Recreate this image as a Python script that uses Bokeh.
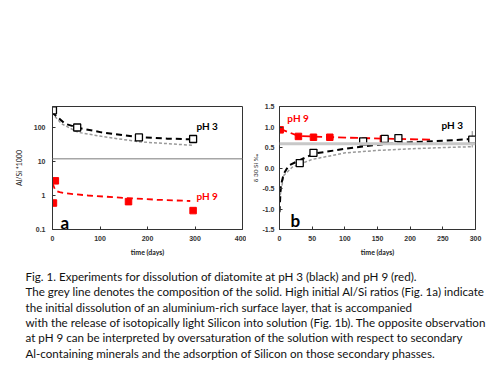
from bokeh.plotting import figure
from bokeh.layouts import column, row
from bokeh.models import Range1d, FixedTicker, Label, Span, ColumnDataSource, Whisker
from bokeh.embed import file_html
from bokeh.resources import INLINE

# ---------------- data: panel a (Al/Si * 1000, log) ----------------
a_ph3_t = [1, 52, 182, 296]
a_ph3_v = [320, 100, 51, 46]
a_ph9_t = [2, 6, 160, 296]
a_ph9_v = [0.6, 2.7, 0.66, 0.36]
a_fit3_t = [0, 3, 26, 54, 103, 182, 242, 295]
a_fit3_v = [300, 250, 130, 98, 72, 52, 47, 45]
a_grey_t = [0, 3, 19, 54, 103, 182, 295]
a_grey_v = [280, 228, 129, 72, 55, 38, 30]
a_fit9_t = [0, 6, 15, 30, 75, 150, 220, 290]
a_fit9_v = [2.3, 1.4, 1.25, 1.15, 1.0, 0.85, 0.75, 0.69]
a_solid = 12
a_yticks = [0.1, 1, 10, 100]
a_ylabels = ["0.1", "1", "10", "100"]
a_xticks = [0, 100, 200, 300, 400]

# ---------------- data: panel b (delta 30 Si) ----------------
b_ph3_t = [31, 52, 128, 161, 182, 295]
b_ph3_v = [0.12, 0.37, 0.65, 0.71, 0.73, 0.69]
b_err_t = [295]
b_err_lo = [0.50]
b_err_hi = [0.90]
b_ph9_t = [1, 29, 52, 77, 159]
b_ph9_v = [0.93, 0.77, 0.75, 0.75, 0.71]
b_fit3_t = [0, 2, 6.6, 14, 29.6, 52.5, 101, 152, 203, 254, 300]
b_fit3_v = [-1.08, -0.43, -0.14, 0.06, 0.18, 0.35, 0.47, 0.57, 0.63, 0.67, 0.71]
b_grey_t = [1, 6.6, 19.4, 50, 101, 152, 203, 254, 295]
b_grey_v = [-0.67, -0.18, 0.02, 0.21, 0.37, 0.43, 0.47, 0.50, 0.52]
b_fit9_t = [0, 29, 101, 178, 231]
b_fit9_v = [0.96, 0.78, 0.74, 0.71, 0.69]
b_solid = 0.59
b_yticks = [-1.5, -1.0, -0.5, 0.0, 0.5, 1.0, 1.5]
b_ylabels = ["-1.5", "-1.0", "-0.5", "0.0", "0.5", "1.0", "1.5"]
b_xticks = [0, 50, 100, 150, 200, 250, 300]

caption_lines = [
    "Fig. 1. Experiments for dissolution of diatomite at pH 3 (black) and pH 9 (red).",
    "The grey line denotes the composition of the solid. High initial Al/Si ratios (Fig. 1a) indicate",
    "the initial dissolution of an aluminium-rich surface layer, that is accompanied",
    "with the release of isotopically light Silicon into solution (Fig. 1b). The opposite observation",
    "at pH 9 can be interpreted by oversaturation  of the solution with respect to secondary",
    "Al-containing minerals and the adsorption of Silicon on those secondary phasses.",
]

FONT = "Lato"
TICKFONT = "Liberation Sans"
RED = "#ff0000"
BORDER = "#333333"


def style(p):
    p.outline_line_color = BORDER
    p.outline_line_width = 1
    p.outline_line_alpha = 1
    p.grid.visible = False
    p.background_fill_color = "white"
    p.border_fill_color = "white"
    for ax in p.axis:
        ax.axis_line_color = BORDER
        ax.major_tick_in = 3
        ax.major_tick_out = 0
        ax.minor_tick_in = 0
        ax.minor_tick_out = 0
        ax.major_tick_line_color = BORDER
        ax.major_label_text_font = TICKFONT
        ax.major_label_text_font_size = "7px"
        ax.major_label_text_font_style = "bold"
        ax.major_label_text_color = "#333333"
        ax.axis_label_text_font = FONT
        ax.axis_label_text_font_size = "7px"
        ax.axis_label_text_color = "#222222"
    p.xaxis.major_label_standoff = 6
    p.xaxis.axis_label_standoff = 4
    p.xaxis.axis_label_text_font_style = "bold"
    p.yaxis.axis_label_text_font_style = "normal"


# ---------------- panel a ----------------
pa = figure(width=246, height=260, y_axis_type="log",
            x_range=Range1d(0, 400), y_range=Range1d(0.1, 415),
            output_backend="svg", toolbar_location=None,
            min_border_left=52, min_border_right=4, min_border_top=106, min_border_bottom=31)
style(pa)
pa.xaxis.ticker = FixedTicker(ticks=a_xticks)
pa.yaxis.ticker = FixedTicker(ticks=a_yticks)
pa.yaxis.major_label_overrides = {t: l for t, l in zip(a_yticks, a_ylabels)}
pa.xaxis.axis_label = "time (days)"
pa.yaxis.axis_label = "Al/Si *1000"
pa.yaxis.major_label_standoff = 7
pa.yaxis.axis_label_standoff = 8

pa.add_layout(Span(location=a_solid, dimension="width", line_color="#a6a6a6", line_width=1.5))
pa.line(a_grey_t, a_grey_v, line_color="#999999", line_width=1.5, line_dash="3 2")
pa.line(a_fit3_t, a_fit3_v, line_color="black", line_width=2, line_dash="6 4")
pa.line(a_fit9_t, a_fit9_v, line_color=RED, line_width=1.8, line_dash="6 4")
pa.scatter(a_ph3_t, a_ph3_v, marker="square", size=7, fill_color="white",
           line_color="black", line_width=1.3)
pa.scatter(a_ph9_t, a_ph9_v, marker="square", size=6.5, fill_color=RED, line_color=RED)

pa.add_layout(Label(x=303, y=114, text="pH 3", text_font=FONT, text_font_size="10px",
                    text_font_style="bold", text_color="black", text_baseline="middle"))
pa.add_layout(Label(x=303, y=1.0, text="pH 9", text_font=FONT, text_font_size="10px",
                    text_font_style="bold", text_color=RED, text_baseline="middle"))
pa.add_layout(Label(x=17, y=0.16, text="a", text_font=FONT, text_font_size="17px",
                    text_font_style="bold", text_color="black", text_baseline="middle"))

# ---------------- panel b ----------------
pb = figure(width=246, height=260,
            x_range=Range1d(0, 300), y_range=Range1d(-1.5, 1.5),
            output_backend="svg", toolbar_location=None,
            min_border_left=33, min_border_right=17, min_border_top=106, min_border_bottom=31)
style(pb)
pb.xaxis.ticker = FixedTicker(ticks=b_xticks)
pb.yaxis.ticker = FixedTicker(ticks=b_yticks)
pb.yaxis.major_label_overrides = {t: l for t, l in zip(b_yticks, b_ylabels)}
pb.xaxis.axis_label = "time (days)"
pb.yaxis.axis_label = "δ 30 Si ‰"
pb.yaxis.axis_label_text_font_size = "6.5px"
pb.yaxis.major_label_standoff = 5
pb.yaxis.axis_label_standoff = 0

pb.add_layout(Span(location=b_solid, dimension="width", line_color="#c8c8c8", line_width=3))
pb.line(b_grey_t, b_grey_v, line_color="#999999", line_width=1.5, line_dash="3 2")
pb.line(b_fit9_t, b_fit9_v, line_color=RED, line_width=1.8, line_dash="8 4")
pb.line(b_fit3_t, b_fit3_v, line_color="black", line_width=2, line_dash="6 4")
src = ColumnDataSource(dict(t=b_err_t, lo=b_err_lo, hi=b_err_hi))
pb.add_layout(Whisker(base="t", lower="lo", upper="hi", source=src, line_color="#888888",
                      line_width=1, upper_head=None, lower_head=None))
pb.scatter(b_ph9_t, b_ph9_v, marker="square", size=6.5, fill_color=RED, line_color=RED)
pb.scatter(b_ph3_t, b_ph3_v, marker="square", size=7, fill_color="white",
           line_color="black", line_width=1.3)

pb.add_layout(Label(x=12, y=1.22, text="pH 9", text_font=FONT, text_font_size="10px",
                    text_font_style="bold", text_color=RED, text_baseline="middle"))
pb.add_layout(Label(x=248, y=1.04, text="pH 3", text_font=FONT, text_font_size="10px",
                    text_font_style="bold", text_color="black", text_baseline="middle"))
pb.add_layout(Label(x=17, y=-1.28, text="b", text_font=FONT, text_font_size="17px",
                    text_font_style="bold", text_color="black", text_baseline="middle"))

# ---------------- caption ----------------
pc = figure(width=492, height=112, x_range=Range1d(0, 492), y_range=Range1d(0, 112),
            output_backend="svg", toolbar_location=None,
            min_border=0, min_border_left=0, min_border_right=0,
            min_border_top=0, min_border_bottom=0)
pc.axis.visible = False
pc.grid.visible = False
pc.outline_line_color = None
for i, line in enumerate(caption_lines):
    pc.add_layout(Label(x=25, y=112 - 15.7 - 15.4 * i, x_units="screen", y_units="screen",
                        text=line, text_font=FONT, text_font_size="11.6px",
                        text_color="#111111", text_baseline="middle"))

layout = column(row(pa, pb), pc)
open("out.html", "w").write(file_html(layout, INLINE))
